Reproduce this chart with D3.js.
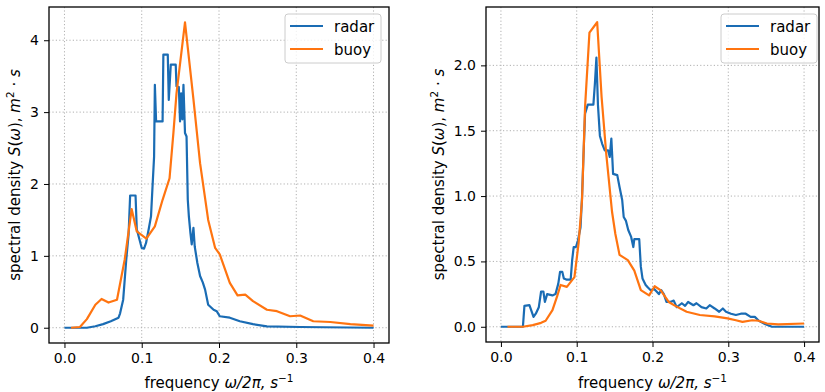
<!DOCTYPE html>
<html><head><meta charset="utf-8">
<script src="https://cdn.jsdelivr.net/npm/d3@7"></script>
<style>
body{margin:0;background:#fff;}
svg{font-family:"DejaVu Sans",sans-serif;}
</style></head>
<body><svg id="c" width="825" height="392"></svg>
<script>
// ---- data ----
const xTicks = [0.0, 0.1, 0.2, 0.3, 0.4];
const leftYTicks = [0, 1, 2, 3, 4];
const rightYTicks = [0.0, 0.5, 1.0, 1.5, 2.0];
const seriesNames = ["radar", "buoy"];

const leftRadarX = [0,0.029,0.04,0.05,0.06,0.07,0.072,0.076,0.08,0.083,0.085,0.092,0.0936,0.097,0.1,0.103,0.1056,0.109,0.112,0.114,0.116,0.117,0.1186,0.127,0.128,0.1337,0.135,0.1376,0.144,0.145,0.148,0.1496,0.151,0.1526,0.154,0.156,0.158,0.1596,0.161,0.163,0.1647,0.1669,0.1686,0.172,0.1755,0.179,0.182,0.186,0.193,0.197,0.201,0.214,0.227,0.244,0.262,0.305,0.4];
const leftRadarY = [0,0,0.02,0.05,0.09,0.14,0.2,0.39,0.95,1.3,1.84,1.84,1.37,1.23,1.11,1.1,1.18,1.37,1.55,1.97,2.38,3.38,2.87,2.87,3.8,3.8,3.17,3.66,3.66,3.36,3.35,2.87,3.26,2.9,3.38,2.71,2.66,1.78,1.55,1.32,1.16,1.39,1.13,0.9,0.72,0.63,0.53,0.32,0.25,0.23,0.16,0.14,0.09,0.05,0.02,0.01,0];
const leftBuoyX = [0.0086,0.02,0.029,0.04,0.048,0.057,0.068,0.078,0.087,0.0936,0.106,0.117,0.127,0.136,0.141,0.145,0.156,0.167,0.1755,0.186,0.195,0.201,0.214,0.224,0.234,0.244,0.262,0.275,0.292,0.305,0.322,0.344,0.37,0.4];
const leftBuoyY = [0,0.01,0.12,0.32,0.4,0.35,0.39,0.95,1.65,1.34,1.24,1.41,1.78,2.08,2.71,3.26,4.25,3.17,2.29,1.5,1.11,1.02,0.625,0.45,0.46,0.37,0.25,0.23,0.16,0.17,0.09,0.08,0.05,0.03];

const rightRadarX = [0,0.029,0.031,0.0376,0.043,0.046,0.05,0.053,0.056,0.058,0.061,0.068,0.072,0.0757,0.078,0.081,0.083,0.087,0.092,0.094,0.096,0.099,0.1016,0.105,0.107,0.109,0.111,0.1146,0.122,0.124,0.126,0.128,0.1306,0.1336,0.137,0.1414,0.1436,0.1457,0.148,0.1535,0.1565,0.16,0.162,0.165,0.168,0.1717,0.1747,0.176,0.1795,0.1825,0.1846,0.1868,0.191,0.194,0.1976,0.202,0.2054,0.2084,0.2115,0.215,0.2184,0.2236,0.228,0.232,0.2387,0.243,0.247,0.254,0.258,0.2646,0.271,0.2755,0.282,0.288,0.2928,0.297,0.3036,0.31,0.3166,0.323,0.3295,0.335,0.3403,0.349,0.3576,0.4];
const rightRadarY = [0,0,0.16,0.165,0.076,0.1,0.15,0.27,0.27,0.19,0.25,0.24,0.25,0.33,0.42,0.42,0.37,0.36,0.36,0.51,0.61,0.61,0.66,0.76,0.99,1.32,1.63,1.7,1.7,1.86,2.06,1.7,1.46,1.4,1.35,1.35,1.3,1.44,1.17,1.16,1.07,0.97,0.84,0.81,0.74,0.69,0.61,0.67,0.67,0.67,0.46,0.37,0.32,0.3,0.28,0.29,0.27,0.25,0.28,0.25,0.19,0.19,0.2,0.15,0.18,0.16,0.19,0.165,0.18,0.15,0.14,0.165,0.14,0.115,0.14,0.115,0.1,0.09,0.1,0.1,0.076,0.076,0.046,0.02,0,0];
const rightBuoyX = [0.0086,0.029,0.042,0.053,0.059,0.068,0.074,0.0787,0.087,0.097,0.1025,0.107,0.111,0.1168,0.127,0.1328,0.139,0.1466,0.151,0.1565,0.1674,0.176,0.1846,0.1955,0.2028,0.2106,0.2214,0.23,0.245,0.2625,0.282,0.299,0.31,0.3187,0.3317,0.34,0.351,0.366,0.4];
const rightBuoyY = [0,0,0.013,0.03,0.046,0.127,0.23,0.32,0.305,0.38,0.64,0.97,1.68,2.25,2.33,1.76,1.32,0.88,0.71,0.55,0.51,0.43,0.28,0.24,0.31,0.28,0.19,0.16,0.115,0.09,0.08,0.064,0.05,0.038,0.05,0.046,0.025,0.018,0.025];

const colors = ["#1a6cb4", "#ff7410"];
const svg = d3.select("#c");

function panel(cfg){
  const {left,right,top,bottom,xDom,yDom,yTicks,yFmt,series,ylabX,legend} = cfg;
  const x = d3.scaleLinear().domain(xDom).range([left,right]);
  const y = d3.scaleLinear().domain(yDom).range([bottom,top]);
  const g = svg.append("g");
  // grid
  g.selectAll(".gx").data(xTicks).join("line")
    .attr("x1",d=>x(d)).attr("x2",d=>x(d)).attr("y1",top).attr("y2",bottom)
    .attr("stroke","#b0b0b0").attr("stroke-width",1).attr("stroke-dasharray","1.2,2.2");
  g.selectAll(".gy").data(yTicks).join("line")
    .attr("y1",d=>y(d)).attr("y2",d=>y(d)).attr("x1",left).attr("x2",right)
    .attr("stroke","#b0b0b0").attr("stroke-width",1).attr("stroke-dasharray","1.2,2.2");
  // lines
  const line = d3.line().x(d=>x(d[0])).y(d=>y(d[1]));
  series.forEach((s,i)=>{
    const pts = s.x.map((v,k)=>[v,s.y[k]]);
    g.append("path").attr("d",line(pts)).attr("fill","none")
      .attr("stroke",colors[i]).attr("stroke-width",2.2).attr("stroke-linejoin","round");
  });
  // axes
  const xa = g.append("g").attr("transform",`translate(0,${bottom})`)
    .call(d3.axisBottom(x).tickValues(xTicks).tickFormat(d3.format(".1f")).tickSize(5).tickPadding(5));
  const ya = g.append("g").attr("transform",`translate(${left},0)`)
    .call(d3.axisLeft(y).tickValues(yTicks).tickFormat(yFmt).tickSize(5).tickPadding(5));
  [xa,ya].forEach(a=>{
    a.select(".domain").remove();
    a.selectAll("text").attr("font-size",14).attr("font-family","DejaVu Sans").attr("fill","#000");
    a.selectAll("line").attr("stroke","#000").attr("stroke-width",1);
  });
  g.append("rect").attr("x",left).attr("y",top).attr("width",right-left).attr("height",bottom-top)
    .attr("fill","none").attr("stroke","#000").attr("stroke-width",1.3);
  // x label
  const xl = g.append("text").attr("x",(left+right)/2 + (cfg.xlabShift||0)).attr("y",388)
    .attr("text-anchor","middle").attr("font-size",15);
  xl.append("tspan").text("frequency ");
  xl.append("tspan").attr("font-style","italic").text("ω/2π, s");
  xl.append("tspan").attr("font-size",10.5).attr("dy",-6).text("−1");
  // y label
  const cy = (top+bottom)/2;
  const yl = g.append("text").attr("transform",`translate(${ylabX},${cy}) rotate(-90)`)
    .attr("text-anchor","middle").attr("font-size",15);
  yl.append("tspan").text("spectral density ");
  yl.append("tspan").attr("font-style","italic").text("S");
  yl.append("tspan").text("(");
  yl.append("tspan").attr("font-style","italic").text("ω");
  yl.append("tspan").text("), ");
  yl.append("tspan").attr("font-style","italic").text("m");
  yl.append("tspan").attr("font-size",10.5).attr("dy",-6).text("2");
  yl.append("tspan").attr("dy",6).text(" · ");
  yl.append("tspan").attr("font-style","italic").text("s");
  // legend
  const lg = g.append("g");
  lg.append("rect").attr("x",legend.x).attr("y",legend.y).attr("width",legend.w).attr("height",49)
    .attr("rx",3).attr("fill","#fff").attr("fill-opacity",0.8).attr("stroke","#ccc").attr("stroke-width",1);
  seriesNames.forEach((n,i)=>{
    const yy = legend.y + 12 + i*23;
    lg.append("line").attr("x1",legend.x+5).attr("x2",legend.x+38).attr("y1",yy).attr("y2",yy)
      .attr("stroke",colors[i]).attr("stroke-width",2.2);
    lg.append("text").attr("x",legend.x+49).attr("y",yy+5.5).attr("font-size",15).text(n);
  });
}

panel({left:49,right:389,top:7,bottom:343,xDom:[-0.02,0.42],yDom:[-0.2125,4.4625],
  yTicks:leftYTicks,yFmt:d3.format("d"),ylabX:19.5,xlabShift:0,
  series:[{x:leftRadarX,y:leftRadarY},{x:leftBuoyX,y:leftBuoyY}],
  legend:{x:285,y:14,w:96}});
panel({left:486,right:819,top:7,bottom:342,xDom:[-0.0197,0.4197],yDom:[-0.1165,2.4465],
  yTicks:rightYTicks,yFmt:d3.format(".1f"),ylabX:443.5,xlabShift:0,
  series:[{x:rightRadarX,y:rightRadarY},{x:rightBuoyX,y:rightBuoyY}],
  legend:{x:721,y:14,w:96}});
</script></body></html>
